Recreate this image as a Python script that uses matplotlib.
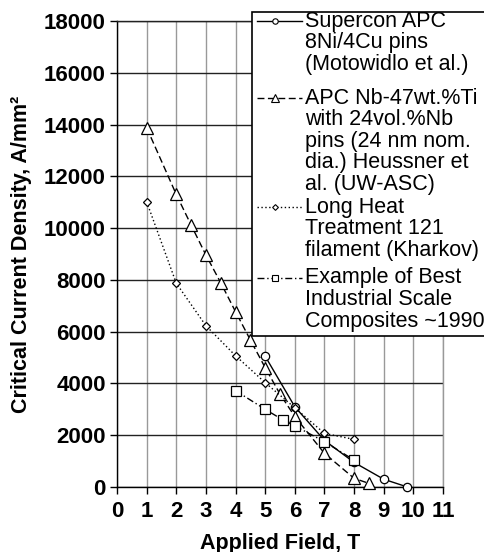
import matplotlib
matplotlib.use('Agg')
from matplotlib import pyplot as plt
from matplotlib.lines import Line2D
from matplotlib.patches import Rectangle

plt.rcParams['font.family'] = ['Liberation Sans', 'DejaVu Sans']

# Supercon APC 8Ni/4Cu pins (Motowidlo et al.)
supercon_x = [5, 6, 7, 8, 9, 9.8]
supercon_y = [5050, 3100, 1800, 950, 300, 0]

# APC Nb-47wt.%Ti with 24vol.%Nb pins (Heussner et al.)
apc_x = [1, 2, 2.5, 3, 3.5, 4, 4.5, 5, 5.5, 6, 7, 8, 8.5]
apc_y = [13880, 11300, 10120, 8960, 7890, 6770, 5680, 4610, 3590, 2720, 1300, 335, 140]

# Long Heat Treatment 121 filament (Kharkov)
kharkov_x = [1, 2, 3, 4, 5, 6, 7, 8]
kharkov_y = [11020, 7870, 6230, 5070, 4030, 3060, 2070, 1840]

# Example of Best Industrial Scale Composites ~1990
industrial_x = [4, 5, 5.6, 6, 7, 8]
industrial_y = [3720, 3000, 2590, 2360, 1750, 1040]

labels = [
    ['Supercon APC', '8Ni/4Cu pins', '(Motowidlo et al.)'],
    ['APC Nb-47wt.%Ti', 'with 24vol.%Nb', 'pins (24 nm nom.', 'dia.) Heussner et', 'al. (UW-ASC)'],
    ['Long Heat', 'Treatment 121', 'filament (Kharkov)'],
    ['Example of Best', 'Industrial Scale', 'Composites ~1990'],
]

W, H = 484, 552
fig = plt.figure(figsize=(W / 100, H / 100), dpi=100)
ax = fig.add_axes([117 / W, 1 - 487 / H, (443 - 117) / W, (487 - 21) / H])

styles = [
    dict(marker='o', ms=6, dashes=()),
    dict(marker='^', ms=8, dashes=(5, 2.5)),
    dict(marker='D', ms=4.5, dashes=(1, 1.8)),
    dict(marker='s', ms=7, dashes=(5, 2, 1, 2)),
]
series = [(supercon_x, supercon_y), (apc_x, apc_y), (kharkov_x, kharkov_y), (industrial_x, industrial_y)]

for (xs, ys), st in zip(series, styles):
    line, = ax.plot(xs, ys, color='black', lw=1.0, marker=st['marker'], ms=st['ms'],
                    mfc='white', mec='black', mew=0.9, clip_on=False, zorder=3)
    if st['dashes']:
        line.set_dashes(st['dashes'])

ax.set_xlim(0, 11)
ax.set_ylim(0, 18000)
ax.set_xticks(range(0, 12))
ax.set_yticks(range(0, 18001, 2000))
ax.xaxis.grid(True, color='#999999', lw=1.0)
ax.yaxis.grid(True, color='#222222', lw=1.0)
ax.set_axisbelow(True)
for s in ax.spines.values():
    s.set_color('black')
    s.set_linewidth(1.0)
ax.spines['top'].set_color('#222222')
ax.spines['right'].set_color('#999999')
ax.tick_params(direction='out', length=5, width=1, labelsize=16)
ax.tick_params(axis='x', pad=5)
ax.tick_params(axis='y', pad=3)
for t in ax.get_xticklabels() + ax.get_yticklabels():
    t.set_fontweight('bold')

xl = ax.set_xlabel('Applied Field, T', fontsize=15.5, fontweight='bold')
xl.set_va('center')
ax.xaxis.set_label_coords(0.5, (487 - 543) / 466)
ax.set_ylabel('Critical Current Density, A/mm²', fontsize=15.5, fontweight='bold', labelpad=9)

# legend box drawn by hand so that handles sit at the first line of each entry
fig.add_artist(Rectangle((252 / W, 1 - 336 / H), (W - 252) / W + 0.01, (336 - 12) / H,
                         transform=fig.transFigure, fc='white', ec='black', lw=1.2, zorder=5))
first_line = [21, 98, 207, 278]
pitch = 21.6
for (top, lab, st) in zip(first_line, labels, styles):
    yy = 1 - top / H
    hl = Line2D([257 / W, 302 / W], [yy, yy], transform=fig.transFigure, color='black', lw=1.0, zorder=6)
    if st['dashes']:
        hl.set_dashes(st['dashes'])
    fig.add_artist(hl)
    fig.add_artist(Line2D([275 / W], [yy], transform=fig.transFigure, marker=st['marker'],
                          ms=st['ms'] * 0.65, mfc='white', mec='black', mew=0.8, ls='none', zorder=7))
    for i, txt in enumerate(lab):
        fig.text(305 / W, 1 - (top + i * pitch) / H, txt, fontsize=15.5, va='center', ha='left', zorder=7)

fig.savefig('out.png', dpi=100)
